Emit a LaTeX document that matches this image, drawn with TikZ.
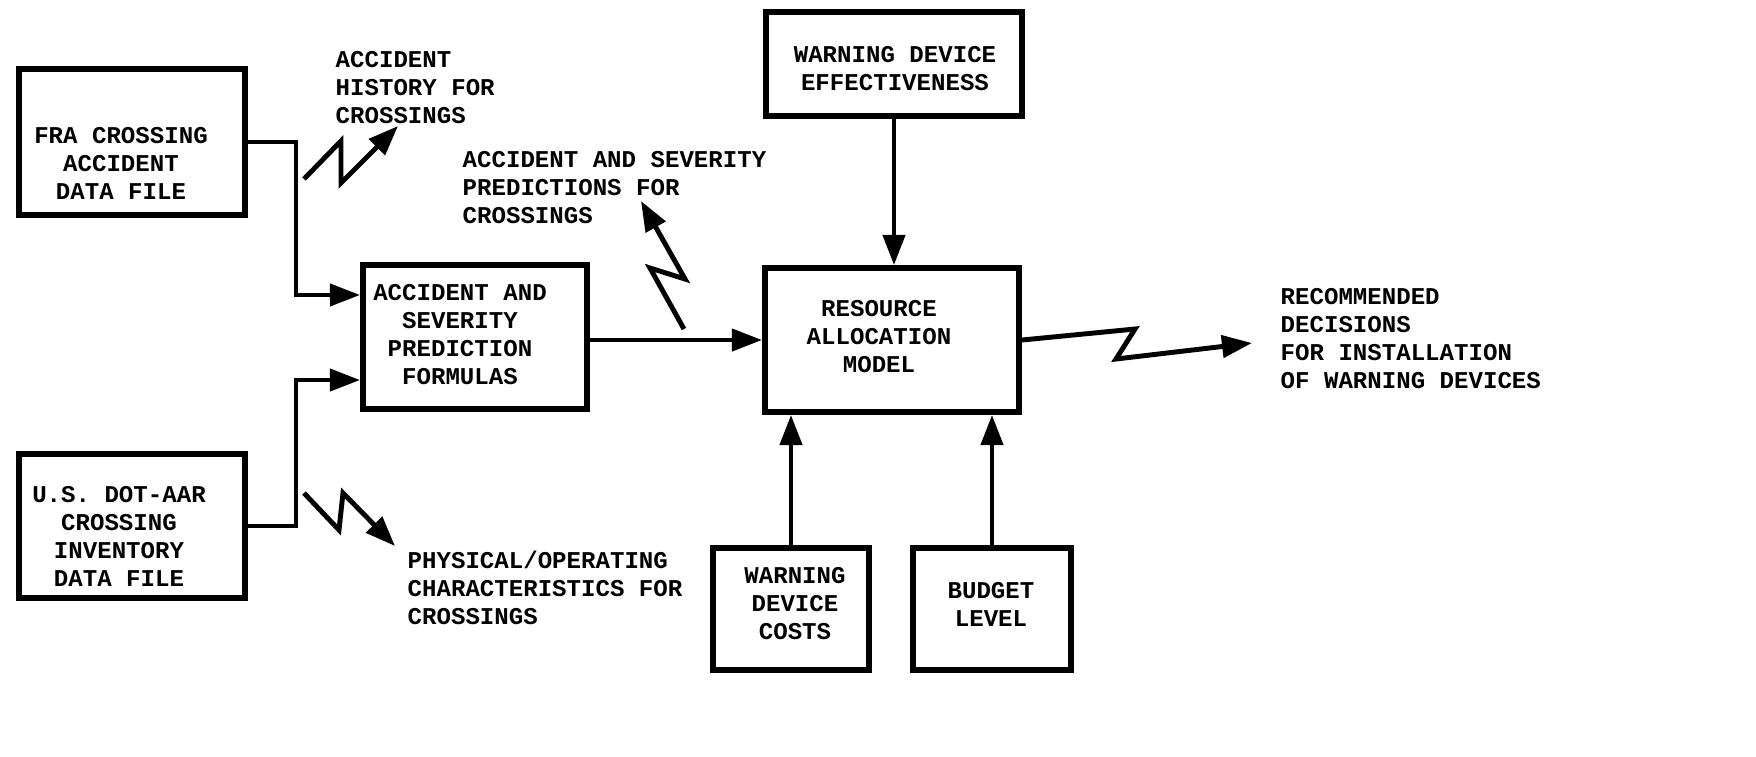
\documentclass[tikz,border=0pt]{standalone}
\usepackage{fontspec}
\setmonofont{Liberation Mono}
\usetikzlibrary{arrows.meta}
\newcommand{\typeface}{\ttfamily\bfseries\fontsize{6.85}{7.97}\selectfont}
\newcommand{\bolt}[4]{\draw[bolt] #1 -- #2 -- #3 -- #4;}

\begin{document}
\begin{tikzpicture}[x = 0.01cm, y = -0.01cm,
    box/.style 2 args = {draw, line width = 1.7pt,
      minimum width = #1, minimum height = #2, inner sep = 0pt},
    words/.style = {font = \typeface, align = center, inner sep = 0pt},
    caption/.style = {font = \typeface, align = left, inner sep = 0pt,
      anchor = west},
    link/.style = {line width = 1.2pt,
      -{Triangle[length = 3mm, width = 2.2mm]}},
    bolt/.style = {link, line width = 1.4pt, line join = miter},
  ]
  \useasboundingbox (0,0) rectangle (1756,757);
  % boxes
  \node [box = {2.26cm}{1.46cm}] (FRA) at (132,142) {};
  \node [box = {2.26cm}{1.44cm}] (DOT) at (132,526) {};
  \node [box = {2.24cm}{1.44cm}] (Formulas) at (475,337) {};
  \node [box = {2.56cm}{1.03cm}] (Effect) at (894,64) {};
  \node [box = {2.54cm}{1.44cm}] (Model) at (892,340) {};
  \node [box = {1.55cm}{1.22cm}] (Costs) at (791,609) {};
  \node [box = {1.57cm}{1.22cm}] (Budget) at (992,609) {};
  \node [words] (FRAtext) at (121,163) {FRA CROSSING\\ACCIDENT\\DATA FILE};
  \node [words] (DOTtext) at (119,536)
    {U.S. DOT-AAR\\CROSSING\\INVENTORY\\DATA FILE};
  \node [words] (Formulastext) at (460,335)
    {ACCIDENT AND\\SEVERITY\\PREDICTION\\FORMULAS};
  \node [words] (Effecttext) at (895,69) {WARNING DEVICE\\EFFECTIVENESS};
  \node [words] (Modeltext) at (879,337) {RESOURCE\\ALLOCATION\\MODEL};
  \node [words] (Coststext) at (795,604) {WARNING\\DEVICE\\COSTS};
  \node [words] (Budgettext) at (991,604) {BUDGET\\LEVEL};
  % free texts
  \node [caption] (History) at (335,88) {ACCIDENT\\HISTORY FOR\\CROSSINGS};
  \node [caption] (Predictions) at (462,188)
    {ACCIDENT AND SEVERITY\\PREDICTIONS FOR\\CROSSINGS};
  \node [caption] (Physical) at (407,588)
    {PHYSICAL/OPERATING\\CHARACTERISTICS FOR\\CROSSINGS};
  \node [caption] (Decisions) at (1280,339)
    {RECOMMENDED\\DECISIONS\\FOR INSTALLATION\\OF WARNING DEVICES};
  % connectors
  \draw [link] (FRA.east) -- ++(48,0) |- ([yshift = 4.2mm]Formulas.west);
  \draw [link] (DOT.east) -- ++(48,0) |- ([yshift = -4.3mm]Formulas.west);
  \draw [link] (Formulas.east |- Model) -- (Model.west);
  \draw [link] (Effect.south) -- (Effect.south |- Model.north);
  \draw [link] (Costs.north) -- (Costs.north |- Model.south);
  \draw [link] (Budget.north) -- (Budget.north |- Model.south);
  % zigzags
  \bolt{(304,179)}{(341,141)}{(341,183)}{(398,126)}
  \bolt{(684,329)}{(650,268)}{(685,279)}{(641,201)}
  \bolt{(304,493)}{(339,530)}{(343,493)}{(395,546)}
  \bolt{(Model.east)}{(1135,329)}{(1116,359)}{(1252,343)}
\end{tikzpicture}
\end{document}
